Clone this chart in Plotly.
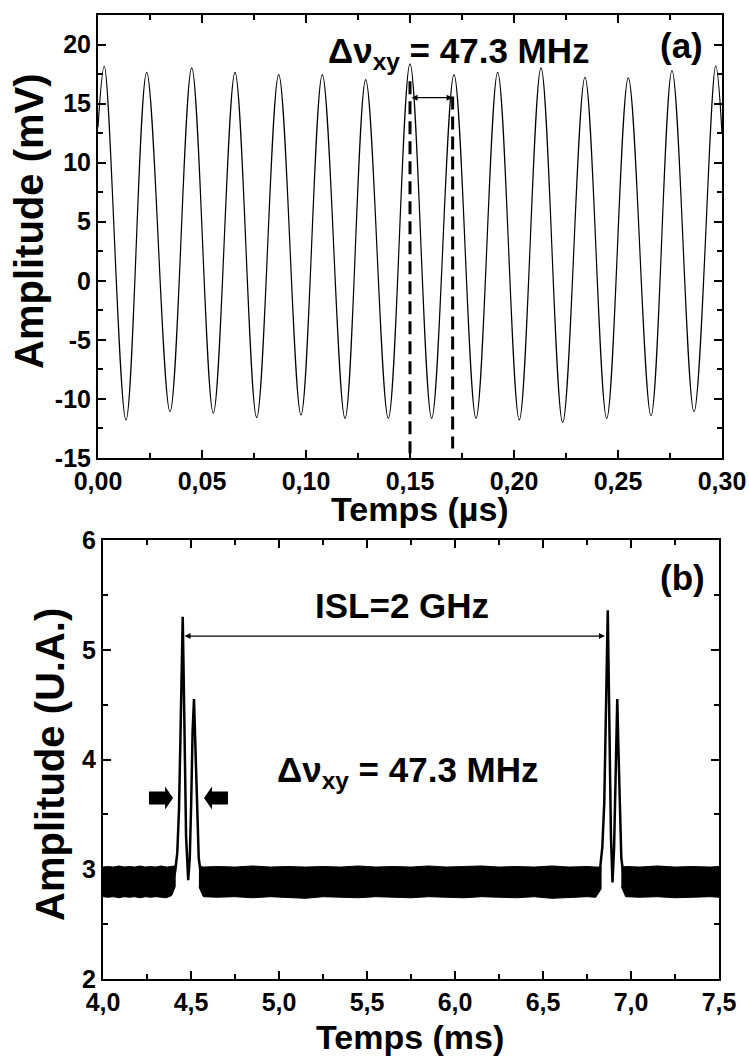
import plotly.graph_objects as go

W, H = 749, 1057
FONT = "Liberation Sans, Arial, sans-serif"

# ---- panel (a): beat signal, peaks and troughs ----
t_us = [0.0, 0.00303, 0.01346, 0.02341, 0.03462, 0.04505, 0.05543, 0.06587, 0.07630,
        0.08688, 0.09760, 0.10784, 0.11875, 0.12870, 0.13957, 0.15000, 0.16043,
        0.17115, 0.18173, 0.19216, 0.20255, 0.21298, 0.22341, 0.23413, 0.24457,
        0.25495, 0.26587, 0.27596, 0.28654, 0.29697, 0.30]
amp_mv = [13.0, 18.16, -11.78, 17.65, -11.08, 18.03, -11.21, 17.65, -11.58,
          17.46, -11.36, 17.46, -11.64, 17.03, -11.64, 18.36, -11.64,
          17.46, -11.64, 17.65, -11.78, 18.03, -12.0, 17.23, -11.64,
          17.18, -11.42, 17.80, -11.08, 18.20, 12.5]
y_ticks_a = [-15, -10, -5, 0, 5, 10, 15, 20]

# ---- panel (b): Fabry-Perot scan ----
# the two doublets (signal trace)
peak1_t = [4.395, 4.410, 4.422, 4.432, 4.440, 4.447, 4.453, 4.458, 4.464, 4.472,
           4.484, 4.493, 4.501, 4.509, 4.517, 4.524, 4.533, 4.544, 4.557, 4.572]
peak1_v = [2.88, 2.98, 3.15, 3.55, 4.20, 4.90, 5.30, 4.80, 4.00, 3.30,
           2.90, 3.10, 3.60, 4.25, 4.55, 4.20, 3.55, 3.10, 2.95, 2.88]
peak2_t = [6.808, 6.824, 6.837, 6.848, 6.856, 6.863, 6.868, 6.873, 6.879, 6.886,
           6.895, 6.904, 6.912, 6.918, 6.922, 6.927, 6.935, 6.945, 6.957, 6.972]
peak2_v = [2.88, 3.00, 3.20, 3.60, 4.30, 5.00, 5.36, 4.80, 4.00, 3.30,
           2.88, 3.20, 3.80, 4.30, 4.55, 4.20, 3.60, 3.10, 2.95, 2.88]

# noise floor, upper / lower edges of the band
noise_a_t = [4.00, 4.03, 4.06, 4.09, 4.12, 4.15, 4.18, 4.21, 4.24, 4.27, 4.30, 4.33, 4.36, 4.39, 4.41]
noise_a_hi = [3.02, 3.025, 3.02, 3.03, 3.02, 3.025, 3.02, 3.03, 3.02, 3.025, 3.02, 3.03, 3.02, 3.025, 3.03]
noise_a_lo = [2.75, 2.745, 2.75, 2.74, 2.75, 2.745, 2.75, 2.74, 2.75, 2.745, 2.75, 2.745, 2.74, 2.76, 2.84]

noise_b_t = [4.545, 4.57, 4.65, 4.75, 4.85, 4.95, 5.05, 5.15, 5.25, 5.35, 5.45, 5.55,
             5.65, 5.75, 5.85, 5.95, 6.05, 6.15, 6.25, 6.35, 6.45, 6.55, 6.65, 6.75,
             6.80, 6.83]
noise_b_hi = [3.03, 3.02, 3.025, 3.02, 3.03, 3.02, 3.025, 3.02, 3.025, 3.02, 3.03, 3.02,
              3.025, 3.02, 3.03, 3.02, 3.025, 3.03, 3.02, 3.025, 3.02, 3.03, 3.02, 3.025,
              3.02, 3.02]
noise_b_lo = [2.84, 2.75, 2.745, 2.75, 2.74, 2.75, 2.745, 2.735, 2.75, 2.745, 2.74, 2.75,
              2.745, 2.74, 2.75, 2.745, 2.74, 2.75, 2.745, 2.74, 2.75, 2.735, 2.745, 2.75,
              2.745, 2.82]

noise_c_t = [6.945, 6.97, 7.05, 7.15, 7.25, 7.35, 7.45, 7.50]
noise_c_hi = [3.02, 3.025, 3.02, 3.03, 3.02, 3.025, 3.02, 3.025]
noise_c_lo = [2.84, 2.75, 2.745, 2.75, 2.74, 2.745, 2.75, 2.745]

# annotation geometry (data units)
dash_x = [0.150, 0.1705]
dash_top = [16.9, 15.6]
dash_bottom = [-14.6, -14.2]
beat_arrow_y = 15.5
isl_x = [4.455, 6.852]
isl_y = 5.125
mark_y = 3.649
mark_left = [4.261, 4.398]    # tail, tip (points right)
mark_right = [4.710, 4.574]   # tail, tip (points left)


def px(x):
    return x / W


def py(y):
    return 1 - y / H


def block_arrow(tail, tip, yc):
    # chunky arrow drawn as a closed path in data units
    body, head, hlen = 0.059, 0.105, 0.045
    d = 1 if tip > tail else -1
    xh = tip - d * hlen
    pts = [(tail, yc - body), (xh, yc - body), (xh, yc - head), (tip, yc),
           (xh, yc + head), (xh, yc + body), (tail, yc + body)]
    return "M " + " L ".join(f"{x},{y}" for x, y in pts) + " Z"


fig = go.Figure()

fig.add_trace(go.Scatter(x=t_us, y=amp_mv, mode="lines", line=dict(color="black", width=1.2, shape="spline"),
                         xaxis="x", yaxis="y"))

for nt, hi, lo in [(noise_a_t, noise_a_hi, noise_a_lo),
                   (noise_b_t, noise_b_hi, noise_b_lo),
                   (noise_c_t, noise_c_hi, noise_c_lo)]:
    fig.add_trace(go.Scatter(x=nt + nt[::-1], y=hi + lo[::-1], mode="lines", fill="toself",
                             fillcolor="black", line=dict(color="black", width=1),
                             xaxis="x2", yaxis="y2"))

for pt, pv in [(peak1_t, peak1_v), (peak2_t, peak2_v)]:
    fig.add_trace(go.Scatter(x=pt, y=pv, mode="lines", line=dict(color="black", width=2.5),
                             xaxis="x2", yaxis="y2"))

tickfont = dict(family=FONT, size=25, color="black", weight="bold")
axis_common = dict(showline=True, linewidth=2, linecolor="black", mirror="allticks",
                   ticks="inside", ticklen=8, tickwidth=1.5, tickcolor="black",
                   showgrid=False, zeroline=False, tickfont=tickfont, automargin=False,
                   ticklabeloverflow="allow")
minor_common = dict(ticks="inside", ticklen=5, tickwidth=1.5, tickcolor="black", showgrid=False)

fig.update_layout(
    template="none",
    width=W, height=H, autosize=False,
    margin=dict(l=0, r=0, t=0, b=0, autoexpand=False),
    paper_bgcolor="white", plot_bgcolor="white",
    showlegend=False,
    separators=", ",
    xaxis=dict(domain=[px(98), px(722)], anchor="y", range=[0, 0.30], dtick=0.05, tickformat=".2f",
               minor=dict(dtick=0.025, **minor_common), **axis_common),
    yaxis=dict(domain=[py(458), py(15)], anchor="x", range=[-15, 22.5],
               tickvals=y_ticks_a, ticktext=[str(v) for v in y_ticks_a],
               minor=dict(dtick=2.5, **minor_common), **axis_common),
    xaxis2=dict(domain=[px(103), px(719)], anchor="y2", range=[4.0, 7.5], dtick=0.5, tickformat=".1f",
                minor=dict(dtick=0.25, **minor_common), **axis_common),
    yaxis2=dict(domain=[py(979), py(540)], anchor="x2", range=[2, 6], dtick=1,
                minor=dict(dtick=0.5, **minor_common), **axis_common),
)

# dashed markers and double arrows
for x0, y0, y1 in zip(dash_x, dash_top, dash_bottom):
    fig.add_shape(type="line", xref="x", yref="y", x0=x0, x1=x0, y0=y0, y1=y1, opacity=1,
                  line=dict(color="black", width=3, dash="13px,7px"))

fig.add_annotation(xref="x", yref="y", axref="x", ayref="y", x=dash_x[1], y=beat_arrow_y,
                   ax=dash_x[0], ay=beat_arrow_y, text="", showarrow=True, arrowside="end+start",
                   arrowhead=2, arrowsize=1, arrowwidth=1.2, arrowcolor="black")
fig.add_annotation(xref="x2", yref="y2", axref="x2", ayref="y2", x=isl_x[1], y=isl_y,
                   ax=isl_x[0], ay=isl_y, text="", showarrow=True, arrowside="end+start",
                   arrowhead=2, arrowsize=1, arrowwidth=1.2, arrowcolor="black")

for tail, tip in [mark_left, mark_right]:
    fig.add_shape(type="path", xref="x2", yref="y2", path=block_arrow(tail, tip, mark_y), opacity=1,
                  fillcolor="black", line=dict(color="black", width=0))

big = dict(family=FONT, size=35, color="black", weight="bold")
title = dict(family=FONT, size=34, color="black", weight="bold")
ytitle = dict(family=FONT, size=40, color="black", weight="bold")

texts = [
    ("Δν<sub>xy</sub> = 47.3 MHz", 326, 53, "left", big, 0),
    ("(a)", 681, 46, "center", big, 0),
    ("(b)", 682, 577, "center", big, 0),
    ("ISL=2 GHz", 402, 605, "center", big, 0),
    ("Δν<sub>xy</sub> = 47.3 MHz", 275, 772, "left", big, 0),
    ("Temps (µs)", 420, 509, "center", title, 0),
    ("Temps (ms)", 410, 1037, "center", title, 0),
    ("Amplitude (mV)", 29, 221, "center", ytitle, -90),
    ("Amplitude (U.A.)", 50, 765, "center", ytitle, -90),
]
for txt, x, y, xa, f, ang in texts:
    fig.add_annotation(xref="paper", yref="paper", x=px(x), y=py(y), text=txt, showarrow=False,
                       xanchor=xa, yanchor="middle", font=f, textangle=ang)

# drop the default page margin so the 749x1057 figure fills the window exactly
fig.write_html("out.html", config={"displayModeBar": False},
               post_script="document.body.style.margin='0';document.body.style.overflow='hidden';")
